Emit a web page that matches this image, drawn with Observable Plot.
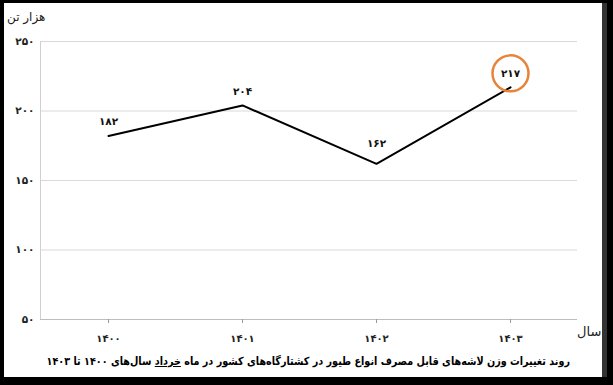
<!DOCTYPE html>
<html>
<head>
<meta charset="utf-8">
<script src="https://cdn.jsdelivr.net/npm/d3@7"></script>
<script src="https://cdn.jsdelivr.net/npm/@observablehq/plot@0.6"></script>
<style>
  html, body { margin: 0; padding: 0; background: #000; width: 613px; height: 385px; overflow: hidden; }
  #box { position: absolute; left: 4px; top: 3px; width: 598px; height: 374px; background: #fff; box-shadow: 5px 0 0 #333; font-family: "DejaVu Sans", sans-serif; }
  #chart { position: absolute; left: 0; top: 0; }
  #unit { position: absolute; left: 3px; top: 7px; font-size: 12px; color: #222; direction: rtl; }
  #xlab { position: absolute; left: 573px; top: 321px; font-size: 13px; color: #222; direction: rtl; }
  #caption { position: absolute; left: -196px; width: 1000px; top: 347px; text-align: center; color: #000; direction: rtl; white-space: nowrap; }
  #caption span { display: inline-block; font-family: "DejaVu Sans", sans-serif; font-size: 11.2px; font-weight: bold; transform: scaleX(0.86); transform-origin: center; }
  #caption u { text-decoration: underline; }
</style>
</head>
<body>
<div id="box">
  <div id="unit">هزار تن</div>
  <div id="chart"></div>
  <div id="xlab">سال</div>
  <div id="caption"><span>روند تغییرات وزن لاشه‌های قابل مصرف انواع طیور در کشتارگاه‌های کشور در ماه <u>خرداد</u> سال‌های ۱۴۰۰ تا ۱۴۰۳</span></div>
</div>
<script>
const years = ["1400", "1401", "1402", "1403"];
const yearLabels = ["۱۴۰۰", "۱۴۰۱", "۱۴۰۲", "۱۴۰۳"];
const values = [182, 204, 162, 217];
const valueLabels = ["۱۸۲", "۲۰۴", "۱۶۲", "۲۱۷"];
const yTicks = [50, 100, 150, 200, 250];
const yTickLabels = ["۵۰", "۱۰۰", "۱۵۰", "۲۰۰", "۲۵۰"];
const highlightYear = "1403";

const data = years.map((y, i) => ({year: y, value: values[i], label: valueLabels[i]}));
const yearLabelMap = new Map(years.map((y, i) => [y, yearLabels[i]]));
const yTickMap = new Map(yTicks.map((t, i) => [t, yTickLabels[i]]));

const chart = Plot.plot({
  width: 598,
  height: 345,
  marginLeft: 36,
  marginRight: 25,
  marginTop: 38,
  marginBottom: 29,
  style: {fontFamily: "DejaVu Sans, sans-serif", background: "transparent"},
  x: {type: "point", domain: years, padding: 0.5},
  y: {domain: [50, 250]},
  marks: [
    Plot.gridY(yTicks, {stroke: "#d9d9d9", strokeOpacity: 1, strokeWidth: 1}),
    Plot.frame({anchor: "left", stroke: "#d0d0d0"}),
    Plot.ruleY([50], {stroke: "#bdbdbd", strokeWidth: 1.2}),
    Plot.axisX({tickSize: 4, tickPadding: 11, stroke: "#999", tickFormat: d => yearLabelMap.get(d), fontSize: 10, fontWeight: "bold", fill: "#222", label: null}),
    Plot.axisY(yTicks, {tickSize: 0, tickPadding: 6, tickFormat: d => yTickMap.get(d), fontSize: 10.5, fontWeight: "bold", fill: "#222", label: null}),
    Plot.line(data, {x: "year", y: "value", stroke: "#000", strokeWidth: 2}),
    Plot.text(data.filter(d => d.value !== 162), {x: "year", y: "value", text: "label", dy: -14, fontSize: 10.5, fontWeight: "bold", fill: "#111"}),
    Plot.text(data.filter(d => d.value === 162), {x: "year", y: "value", text: "label", dy: -20, fontSize: 10.5, fontWeight: "bold", fill: "#111"}),
    Plot.dot(data.filter(d => d.year === highlightYear), {x: "year", y: "value", dy: -14, r: 18, stroke: "#e8843a", strokeWidth: 2.5, fill: "none"})
  ]
});
document.getElementById("chart").appendChild(chart);
</script>
</body>
</html>
